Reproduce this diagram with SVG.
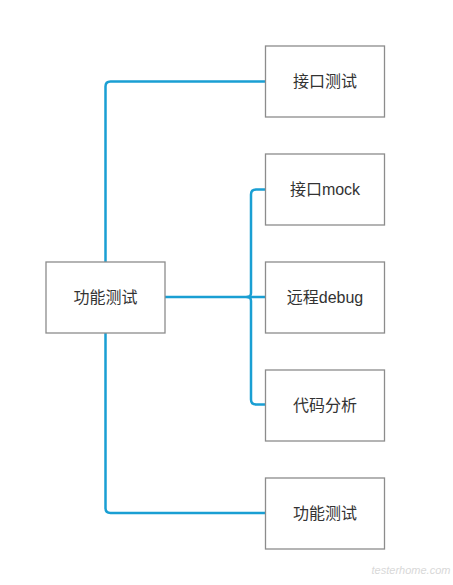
<svg xmlns="http://www.w3.org/2000/svg" width="453" height="585" viewBox="0 0 453 585">
<style>
.box{fill:#fff;stroke:#8c8c8c;stroke-width:1.3}
.lbl{font-family:"Liberation Sans","Noto Sans CJK SC",sans-serif;font-size:16px;fill:#333;text-anchor:middle;dominant-baseline:central}
.con{fill:none;stroke:#1a9fd3;stroke-width:2.5;stroke-linejoin:round}
</style>
<rect width="453" height="585" fill="#fff"/>
<g id="connectors">
<path class="con" d="M265,81.5 H110.5 Q105.5,81.5 105.5,86.5 V262"/>
<path class="con" d="M105.5,333 V508 Q105.5,513 110.5,513 H265"/>
<path class="con" d="M165,297 H265"/>
<path class="con" d="M265,189.5 H256 Q251,189.5 251,194.5 V293 Q251,297 247,297 Q251,297 251,301 V399.5 Q251,404.5 256,404.5 H265"/>
</g>
<g id="root"><rect class="box" x="46" y="262" width="119" height="71"/><text class="lbl" x="105.5" y="297.5">功能测试</text></g>
<g id="n1"><rect class="box" x="265.5" y="46" width="119" height="71"/><text class="lbl" x="325" y="81.5">接口测试</text></g>
<g id="n2"><rect class="box" x="265.5" y="154" width="119" height="71"/><text class="lbl" x="325" y="189.5">接口mock</text></g>
<g id="n3"><rect class="box" x="265.5" y="262" width="119" height="71"/><text class="lbl" x="325" y="297.5">远程debug</text></g>
<g id="n4"><rect class="box" x="265.5" y="370" width="119" height="71"/><text class="lbl" x="325" y="405.5">代码分析</text></g>
<g id="n5"><rect class="box" x="265.5" y="478" width="119" height="71"/><text class="lbl" x="325" y="513.5">功能测试</text></g>
<text x="411" y="574" font-family="'Liberation Sans',sans-serif" font-size="11" font-style="italic" fill="#d8d8d8" text-anchor="middle">testerhome.com</text>
</svg>
